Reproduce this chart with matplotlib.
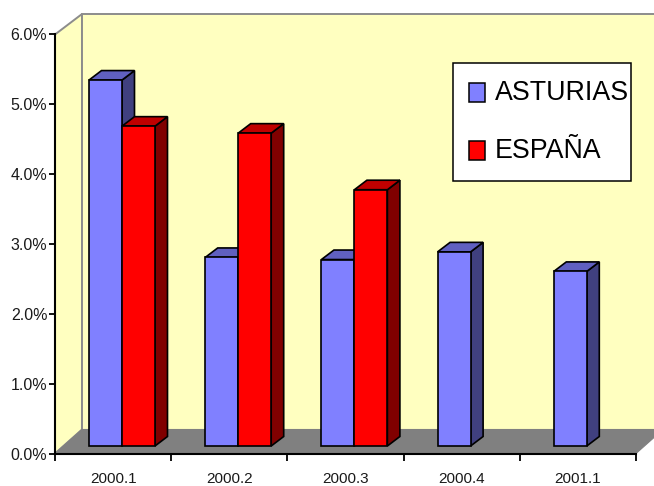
import numpy as np
import matplotlib
matplotlib.use('Agg')
import matplotlib.pyplot as plt
from matplotlib.patches import Polygon, Rectangle
from matplotlib.ticker import FuncFormatter

plt.rcParams['font.family'] = ['Liberation Sans', 'DejaVu Sans']

# Data
categories = ['2000.1', '2000.2', '2000.3', '2000.4', '2001.1']
asturias = [5.24, 2.70, 2.67, 2.78, 2.50]
espana = [4.58, 4.48, 3.67, np.nan, np.nan]
y_ticks = [0, 1, 2, 3, 4, 5, 6]

W, H = 654, 486
L, R, T, B = 55, 636, 34.5, 453.5  # front plane in pixels

fig = plt.figure(figsize=(W / 100, H / 100), dpi=100, facecolor='white')
ax = fig.add_axes([L / W, 1 - B / H, (R - L) / W, (B - T) / H])
ax.set_xlim(0, len(categories))
ax.set_ylim(0, 6)
ax.patch.set_visible(False)

sx = (R - L) / len(categories)  # px per category
sy = (B - T) / 6  # px per percent


def add_poly(pts, fc, ec, z, lw=1.2):
    # pts are (category, percent) pairs
    ax.add_patch(Polygon(pts, closed=True, facecolor=fc, edgecolor=ec, linewidth=lw,
                         zorder=z, clip_on=False, joinstyle='miter'))


# walls and floor
wall = '#FFFFC0'
grey = '#8C8C8C'
ddx = 27 / sx
top_dy = 20.5 / sy
bot_dy = 24 / sy
add_poly([(0, 0), (ddx, bot_dy), (ddx, 6 + top_dy), (0, 6)], wall, grey, 1, 1.4)
add_poly([(ddx, bot_dy), (5 + ddx, bot_dy), (5 + ddx, 6 + top_dy), (ddx, 6 + top_dy)], wall, grey, 1, 1.4)
add_poly([(0, 0), (5, 0), (5 + ddx, bot_dy), (ddx, bot_dy)], '#808080', '#808080', 2, 0.8)

# bars
base = 7.5 / sy
bw = 33 / sx
off = 34 / sx
dx = 12.5 / sx
dy = 9.5 / sy


def bar3d(x, v, front, top, side, z):
    h = base + v
    add_poly([(x + bw, base), (x + bw + dx, base + dy), (x + bw + dx, h + dy), (x + bw, h)], side, 'black', z)
    add_poly([(x, h), (x + bw, h), (x + bw + dx, h + dy), (x + dx, h + dy)], top, 'black', z)
    add_poly([(x, base), (x + bw, base), (x + bw, h), (x, h)], front, 'black', z + 0.5)


for i, (a, e) in enumerate(zip(asturias, espana)):
    bar3d(i + off, a, '#8080FF', '#6060C0', '#40407F', 3 + i * 2)
    if not np.isnan(e):
        bar3d(i + off + bw, e, '#FF0000', '#C00000', '#800000', 4 + i * 2)

# axes
for s in ['top', 'right']:
    ax.spines[s].set_visible(False)
for s in ['left', 'bottom']:
    ax.spines[s].set_linewidth(1.5)
    ax.spines[s].set_color('black')
    ax.spines[s].set_zorder(20)
ax.set_yticks(y_ticks)
ax.yaxis.set_major_formatter(FuncFormatter(lambda v, p: f'{v:.1f}%'))
ax.tick_params(axis='y', length=4.5, width=1.3, pad=1, labelsize=11.5, labelcolor='#1a1a1a')
ax.set_xticks(np.arange(len(categories) + 1))
ax.set_xticklabels([])
ax.set_xticks(np.arange(len(categories)) + 0.5, categories, minor=True)
ax.tick_params(axis='x', which='major', length=5, width=1.3)
ax.tick_params(axis='x', which='minor', length=0, pad=13, labelsize=11, labelcolor='#1a1a1a')

# legend box
fig.add_artist(Rectangle((452.5 / W, 1 - 181.5 / H), 178 / W, 118.5 / H, transform=fig.transFigure,
                         facecolor='white', edgecolor='black', linewidth=1.1, zorder=30))
for label, color, yc in [('ASTURIAS', '#8080FF', 92.5), ('ESPAÑA', '#FF0000', 150.5)]:
    fig.add_artist(Rectangle((468.5 / W, 1 - (yc + 9.5) / H), 16.5 / W, 19 / H, transform=fig.transFigure,
                             facecolor=color, edgecolor='black', linewidth=1.1, zorder=31))
    fig.text(494.5 / W, 1 - (yc + 7) / H, label, fontsize=19.3, color='black', va='baseline', ha='left', zorder=32)

plt.savefig('out.png', dpi=100, facecolor='white')
plt.close()
